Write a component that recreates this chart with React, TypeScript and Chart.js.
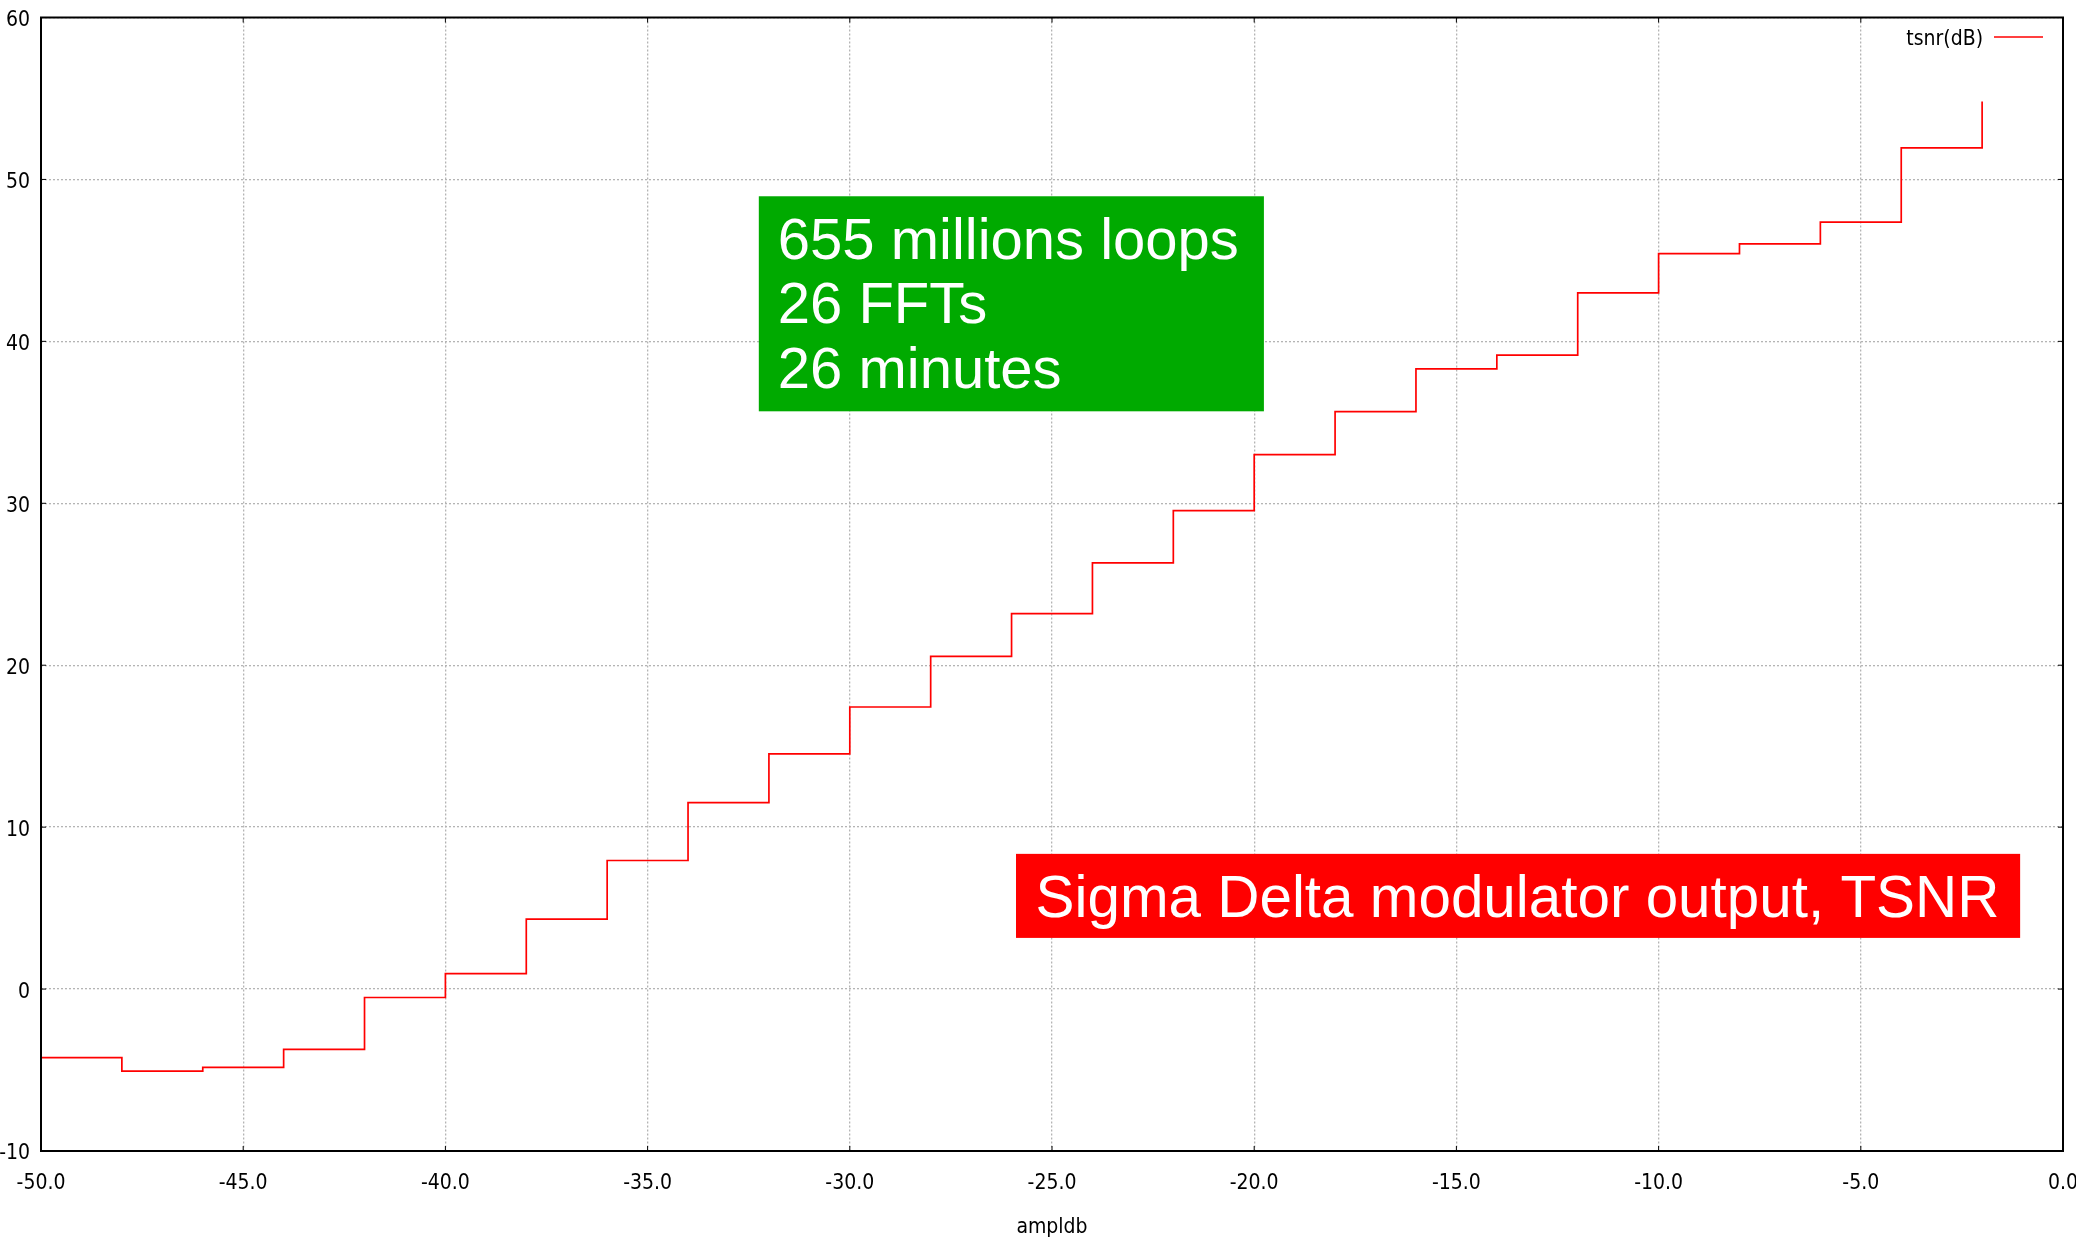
import React, { useEffect, useRef } from "react";
import { Chart, registerables } from "chart.js";

Chart.register(...registerables);

// ---- data ----
const amplDb = [-50, -48, -46, -44, -42, -40, -38, -36, -34, -32, -30, -28, -26, -24, -22, -20, -18, -16, -14, -12, -10, -8, -6, -4, -2];
const tsnrDb = [-4.23, -5.07, -4.83, -3.73, -0.52, 0.96, 4.32, 7.94, 11.52, 14.52, 17.42, 20.55, 23.18, 26.32, 29.55, 33.0, 35.66, 38.3, 39.15, 43.0, 45.42, 46.02, 47.36, 51.95, 54.82];
const seriesLabel = "tsnr(dB)";
const xAxisTitle = "ampldb";
const xRange = [-50, 0];
const yRange = [-10, 60];
const xTickStep = 5;
const yTickStep = 10;
const infoLines = ["655 millions loops", "26 FFTs", "26 minutes"];
const titleLines = ["Sigma Delta modulator output, TSNR"];

// annotation boxes in data coordinates [xLeft, yTop, xRight, yBottom]
const infoBox = [-32.25, 48.96, -19.76, 35.68];
const titleBox = [-25.89, 8.35, -1.06, 3.16];

const TICK_FONT = "'DejaVu Sans Condensed', 'DejaVu Sans', sans-serif";
const BOX_FONT = "'Liberation Sans', Arial, sans-serif";

function drawBox(chart: any, box: number[], color: string, lines: string[], padLeft: number, firstBaseline: number, lineStep: number, size: number) {
  const { ctx, scales } = chart;
  const x0 = scales.x.getPixelForValue(box[0]);
  const y0 = scales.y.getPixelForValue(box[1]);
  const x1 = scales.x.getPixelForValue(box[2]);
  const y1 = scales.y.getPixelForValue(box[3]);
  ctx.save();
  ctx.fillStyle = color;
  ctx.fillRect(x0, y0, x1 - x0, y1 - y0);
  ctx.fillStyle = "#ffffff";
  ctx.font = `${size}px ${BOX_FONT}`;
  ctx.textAlign = "left";
  ctx.textBaseline = "alphabetic";
  lines.forEach((t, i) => {
    ctx.fillText(t, x0 + padLeft, y0 + firstBaseline + i * lineStep);
  });
  ctx.restore();
}

const boxesPlugin = {
  id: "boxes",
  afterDatasetsDraw(chart: any) {
    drawBox(chart, infoBox, "#00aa00", infoLines, 19, 62.5, 64.5, 58);
    drawBox(chart, titleBox, "#ff0000", titleLines, 19.5, 63, 64.5, 58.4);
  },
};

const framePlugin = {
  id: "frame",
  afterDraw(chart: any) {
    const { ctx, chartArea: a, scales } = chart;
    ctx.save();
    ctx.strokeStyle = "#000000";
    ctx.lineWidth = 1;
    const tl = 5;
    ctx.beginPath();
    for (let v = xRange[0]; v <= xRange[1]; v += xTickStep) {
      const p = scales.x.getPixelForValue(v);
      ctx.moveTo(p, a.bottom);
      ctx.lineTo(p, a.bottom - tl);
      ctx.moveTo(p, a.top);
      ctx.lineTo(p, a.top + tl);
    }
    for (let v = yRange[0]; v <= yRange[1]; v += yTickStep) {
      const p = scales.y.getPixelForValue(v);
      ctx.moveTo(a.left, p);
      ctx.lineTo(a.left + tl, p);
      ctx.moveTo(a.right, p);
      ctx.lineTo(a.right - tl, p);
    }
    ctx.stroke();
    ctx.lineWidth = 2;
    ctx.strokeRect(a.left, a.top, a.right - a.left, a.bottom - a.top);
    ctx.restore();
  },
};

const legendPlugin = {
  id: "gpLegend",
  afterDraw(chart: any) {
    const { ctx, chartArea: a } = chart;
    const ds = chart.data.datasets[0];
    ctx.save();
    ctx.font = `21px ${TICK_FONT}`;
    ctx.fillStyle = "#000000";
    ctx.textAlign = "right";
    ctx.textBaseline = "middle";
    ctx.fillText(ds.label, a.right - 80, a.top + 22.5);
    ctx.strokeStyle = ds.borderColor;
    ctx.lineWidth = 1.5;
    ctx.beginPath();
    ctx.moveTo(a.right - 69, a.top + 19.5);
    ctx.lineTo(a.right - 20, a.top + 19.5);
    ctx.stroke();
    ctx.restore();
  },
};

export default function App() {
  const ref = useRef<HTMLCanvasElement | null>(null);

  useEffect(() => {
    if (!ref.current) return;
    const points = amplDb.map((x, i) => ({ x, y: tsnrDb[i] }));
    const chart = new Chart(ref.current, {
      type: "line",
      data: {
        datasets: [
          {
            label: seriesLabel,
            data: points,
            borderColor: "#ff0000",
            backgroundColor: "#ff0000",
            borderWidth: 1.7,
            pointRadius: 0,
            stepped: true,
            fill: false,
          },
        ],
      },
      options: {
        responsive: false,
        animation: false,
        layout: { padding: { top: 17.5, right: 13, left: 0, bottom: 0 } },
        plugins: {
          legend: { display: false },
          tooltip: { enabled: false },
          title: { display: false },
        },
        scales: {
          x: {
            type: "linear",
            min: xRange[0],
            max: xRange[1],
            ticks: {
              stepSize: xTickStep,
              color: "#000000",
              font: { family: TICK_FONT, size: 21 },
              padding: 20,
              maxRotation: 0,
              autoSkip: false,
              callback: (v: any) => Number(v).toFixed(1),
            },
            grid: { color: "#b4b4b4", lineWidth: 1.3, drawTicks: false },
            border: { display: false, dash: [2, 2] },
            title: {
              display: true,
              text: xAxisTitle,
              color: "#000000",
              font: { family: TICK_FONT, size: 21 },
              padding: { top: 0, bottom: 8 },
            },
            afterFit: (scale: any) => {
              scale.height = 97;
              scale.paddingLeft = 0;
              scale.paddingRight = 0;
            },
          },
          y: {
            type: "linear",
            min: yRange[0],
            max: yRange[1],
            ticks: {
              stepSize: yTickStep,
              color: "#000000",
              font: { family: TICK_FONT, size: 21 },
              padding: 11,
              labelOffset: 3,
              autoSkip: false,
            },
            grid: { color: "#b4b4b4", lineWidth: 1.3, drawTicks: false },
            border: { display: false, dash: [2, 2] },
            afterFit: (scale: any) => {
              scale.width = 41;
              scale.paddingTop = 0;
              scale.paddingBottom = 0;
            },
          },
        },
      },
      plugins: [boxesPlugin, framePlugin, legendPlugin],
    });
    return () => chart.destroy();
  }, []);

  return (
    <div style={{ position: "absolute", left: 0, top: 0, width: 2076, height: 1248, background: "#ffffff" }}>
      <canvas ref={ref} width={2076} height={1248} style={{ display: "block", width: 2076, height: 1248 }} />
    </div>
  );
}
